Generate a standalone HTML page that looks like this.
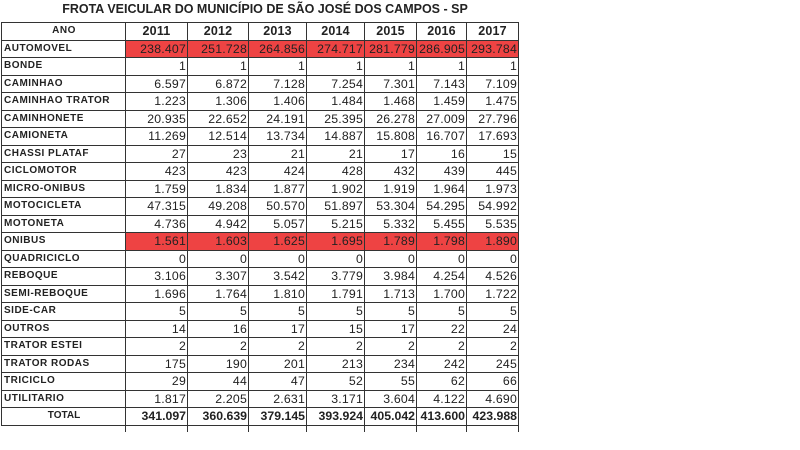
<!DOCTYPE html>
<html><head><meta charset="utf-8"><style>
body{margin:0;width:800px;height:450px;background:#fff;position:relative;overflow:hidden;font-family:"Liberation Sans",sans-serif;}
.t{position:absolute;left:0;top:2px;width:530px;text-align:center;font-weight:bold;font-size:12.5px;color:#222;}
table{position:absolute;left:1px;top:22px;width:517px;border-collapse:collapse;table-layout:fixed;}
td{border:1px solid #333;height:16.5px;padding:0 1px;font-size:12.3px;letter-spacing:0.2px;color:#222;text-align:right;white-space:nowrap;overflow:hidden;line-height:16px;vertical-align:middle;}
td:first-child{text-align:left;font-weight:bold;font-size:10px;letter-spacing:0.5px;padding-left:2px;}
tr.h td{text-align:center;font-weight:bold;font-size:12.5px;}
tr.h td:first-child{font-size:10px;}
tr.r td:not(:first-child){background:#ee4343;}
tr.tot td{font-weight:bold;letter-spacing:0;}
tr.tot td:first-child{text-align:center;}
.tail{position:absolute;top:425px;height:7px;border-left:1px solid #333;}
</style></head><body>
<div class="t">FROTA VEICULAR DO MUNICÍPIO DE SÃO JOSÉ DOS CAMPOS - SP</div>
<table>
<colgroup><col style="width:124px"><col style="width:62px"><col style="width:61px"><col style="width:58px"><col style="width:58px"><col style="width:52px"><col style="width:50px"><col style="width:52px"></colgroup>
<tr class="h"><td>ANO</td><td>2011</td><td>2012</td><td>2013</td><td>2014</td><td>2015</td><td>2016</td><td>2017</td></tr>
<tr class="r"><td>AUTOMOVEL</td><td>238.407</td><td>251.728</td><td>264.856</td><td>274.717</td><td>281.779</td><td>286.905</td><td>293.784</td></tr>
<tr><td>BONDE</td><td>1</td><td>1</td><td>1</td><td>1</td><td>1</td><td>1</td><td>1</td></tr>
<tr><td>CAMINHAO</td><td>6.597</td><td>6.872</td><td>7.128</td><td>7.254</td><td>7.301</td><td>7.143</td><td>7.109</td></tr>
<tr><td>CAMINHAO TRATOR</td><td>1.223</td><td>1.306</td><td>1.406</td><td>1.484</td><td>1.468</td><td>1.459</td><td>1.475</td></tr>
<tr><td>CAMINHONETE</td><td>20.935</td><td>22.652</td><td>24.191</td><td>25.395</td><td>26.278</td><td>27.009</td><td>27.796</td></tr>
<tr><td>CAMIONETA</td><td>11.269</td><td>12.514</td><td>13.734</td><td>14.887</td><td>15.808</td><td>16.707</td><td>17.693</td></tr>
<tr><td>CHASSI PLATAF</td><td>27</td><td>23</td><td>21</td><td>21</td><td>17</td><td>16</td><td>15</td></tr>
<tr><td>CICLOMOTOR</td><td>423</td><td>423</td><td>424</td><td>428</td><td>432</td><td>439</td><td>445</td></tr>
<tr><td>MICRO-ONIBUS</td><td>1.759</td><td>1.834</td><td>1.877</td><td>1.902</td><td>1.919</td><td>1.964</td><td>1.973</td></tr>
<tr><td>MOTOCICLETA</td><td>47.315</td><td>49.208</td><td>50.570</td><td>51.897</td><td>53.304</td><td>54.295</td><td>54.992</td></tr>
<tr><td>MOTONETA</td><td>4.736</td><td>4.942</td><td>5.057</td><td>5.215</td><td>5.332</td><td>5.455</td><td>5.535</td></tr>
<tr class="r"><td>ONIBUS</td><td>1.561</td><td>1.603</td><td>1.625</td><td>1.695</td><td>1.789</td><td>1.798</td><td>1.890</td></tr>
<tr><td>QUADRICICLO</td><td>0</td><td>0</td><td>0</td><td>0</td><td>0</td><td>0</td><td>0</td></tr>
<tr><td>REBOQUE</td><td>3.106</td><td>3.307</td><td>3.542</td><td>3.779</td><td>3.984</td><td>4.254</td><td>4.526</td></tr>
<tr><td>SEMI-REBOQUE</td><td>1.696</td><td>1.764</td><td>1.810</td><td>1.791</td><td>1.713</td><td>1.700</td><td>1.722</td></tr>
<tr><td>SIDE-CAR</td><td>5</td><td>5</td><td>5</td><td>5</td><td>5</td><td>5</td><td>5</td></tr>
<tr><td>OUTROS</td><td>14</td><td>16</td><td>17</td><td>15</td><td>17</td><td>22</td><td>24</td></tr>
<tr><td>TRATOR ESTEI</td><td>2</td><td>2</td><td>2</td><td>2</td><td>2</td><td>2</td><td>2</td></tr>
<tr><td>TRATOR RODAS</td><td>175</td><td>190</td><td>201</td><td>213</td><td>234</td><td>242</td><td>245</td></tr>
<tr><td>TRICICLO</td><td>29</td><td>44</td><td>47</td><td>52</td><td>55</td><td>62</td><td>66</td></tr>
<tr><td>UTILITARIO</td><td>1.817</td><td>2.205</td><td>2.631</td><td>3.171</td><td>3.604</td><td>4.122</td><td>4.690</td></tr>
<tr class="tot"><td>TOTAL</td><td>341.097</td><td>360.639</td><td>379.145</td><td>393.924</td><td>405.042</td><td>413.600</td><td>423.988</td></tr>
</table>
<div class="tail" style="left:125px"></div><div class="tail" style="left:187px"></div><div class="tail" style="left:248px"></div><div class="tail" style="left:306px"></div><div class="tail" style="left:364px"></div><div class="tail" style="left:416px"></div><div class="tail" style="left:466px"></div><div class="tail" style="left:518px"></div>
</body></html>
